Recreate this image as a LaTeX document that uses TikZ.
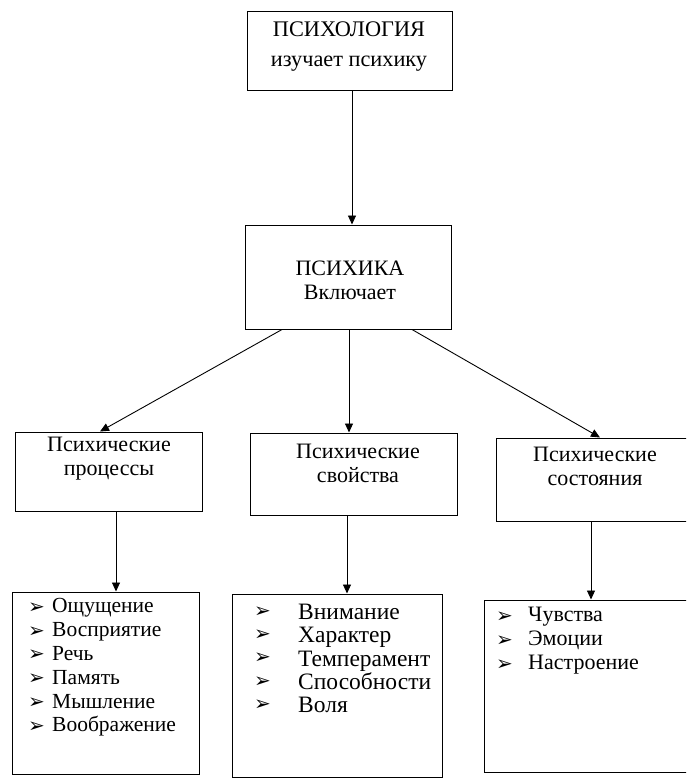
\documentclass[tikz,border=0pt]{standalone}
\usepackage{fontspec}
\setmainfont{Liberation Serif}
\newfontfamily\bulfont{DejaVu Sans}
\usetikzlibrary{arrows.meta}
\begin{document}
\begin{tikzpicture}[x=1pt,y=-1pt,
  box/.style={draw, line width=1pt, inner sep=0pt},
  lbl/.style={align=center, inner sep=0pt, font=\fontsize{22}{24}\selectfont},
  items/.style={align=left, inner sep=0pt, anchor=west},
  bullets/.style={align=left, inner sep=0pt, anchor=west},
  conn/.style={line width=0.9pt, -{Triangle[length=9pt,width=8pt]}},
  ]
\useasboundingbox (0,0) rectangle (686,781);
\clip (0,0) rectangle (686,781);
% boxes
\node[box, minimum width=205pt, minimum height=79pt] (top) at (349.5,51.5) {};
\node[box, minimum width=206pt, minimum height=104pt] (psy) at (348,277) {};
\node[box, minimum width=187pt, minimum height=79pt] (proc) at (108.5,471.5) {};
\node[box, minimum width=207pt, minimum height=82pt] (prop) at (353.5,474) {};
\node[box, minimum width=204pt, minimum height=83pt] (state) at (598,479.5) {};
\node[box, minimum width=187pt, minimum height=182pt] (list1) at (105.5,683) {};
\node[box, minimum width=210pt, minimum height=183pt] (list2) at (337,685.5) {};
\node[box, minimum width=216pt, minimum height=172pt] (list3) at (592,686) {};
% texts
\node[lbl, font=\fontsize{22.3}{30}\selectfont] (ttop) at (349,47) {ПСИХОЛОГИЯ\\изучает психику};
\node[lbl] (tpsy) at (350,280) {ПСИХИКА\\Включает};
\node[lbl] (tproc) at (109,459) {Психические\\процессы};
\node[lbl] (tprop) at (358,463) {Психические\\свойства};
\node[lbl] (tstate) at (595,466) {Психические\\состояния};
% lists
\node[items, font=\fontsize{21.5}{23.8}\selectfont] (i1) at (52,667.5)
  {Ощущение\\Восприятие\\Речь\\Память\\Мышление\\Воображение};
\node[bullets, font=\bulfont\fontsize{20}{23.8}\selectfont] (b1) at (28,667.5)
  {➢\\➢\\➢\\➢\\➢\\➢};
\node[items, font=\fontsize{23.5}{23.25}\selectfont] (i2) at (298,658.5)
  {Внимание\\Характер\\Темперамент\\Способности\\Воля};
\node[bullets, font=\bulfont\fontsize{20}{23.25}\selectfont] (b2) at (254,658.5)
  {➢\\➢\\➢\\➢\\➢};
\node[items, font=\fontsize{22}{24}\selectfont] (i3) at (528,641)
  {Чувства\\Эмоции\\Настроение};
\node[bullets, font=\bulfont\fontsize{20}{24}\selectfont] (b3) at (496,641)
  {➢\\➢\\➢};
% connectors
\draw[conn] (352,0 |- top.south) -- (352,0 |- psy.north);
\draw[conn] (282,0 |- psy.south) -- (100,0 |- proc.north);
\draw[conn] (349,0 |- psy.south) -- (349,0 |- prop.north);
\draw[conn] (412,0 |- psy.south) -- (600,0 |- state.north);
\draw[conn] (116,0 |- proc.south) -- (116,0 |- list1.north);
\draw[conn] (347,0 |- prop.south) -- (347,0 |- list2.north);
\draw[conn] (591,0 |- state.south) -- (591,0 |- list3.north);
\end{tikzpicture}
\end{document}
